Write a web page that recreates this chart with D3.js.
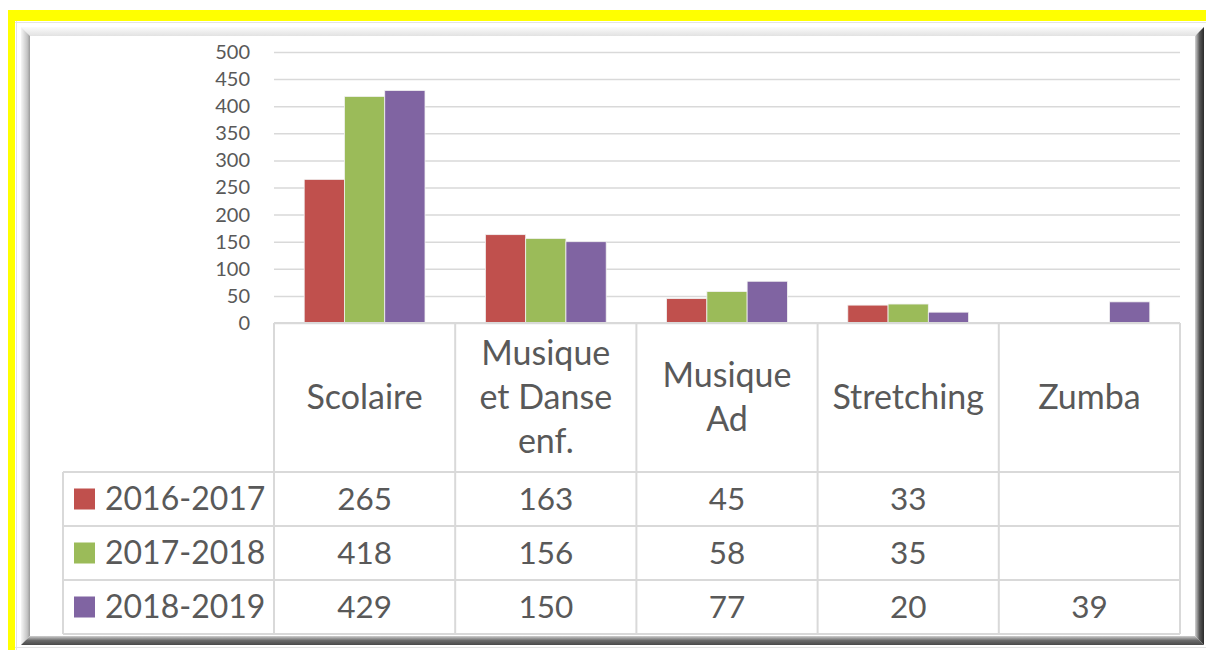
<!DOCTYPE html>
<html>
<head>
<meta charset="utf-8">
<script src="https://cdn.jsdelivr.net/npm/d3@7"></script>
<style>
body { margin: 0; background: #fff; }
svg { display: block; }
text { font-family: Lato, sans-serif; fill: #595959; }
</style>
</head>
<body>
<svg id="mySVG" width="1206" height="650"></svg>
<script>
// data
var categories = ["Scolaire", "Musique et Danse enf.", "Musique Ad", "Stretching", "Zumba"];
var seriesNames = ["2016-2017", "2017-2018", "2018-2019"];
var values1617 = [265, 163, 45, 33, null];
var values1718 = [418, 156, 58, 35, null];
var values1819 = [429, 150, 77, 20, 39];
var seriesColors = ["#C0504D", "#9BBB59", "#8064A2"];
var yTicks = [0, 50, 100, 150, 200, 250, 300, 350, 400, 450, 500];

var series = [values1617, values1718, values1819];

var plotLeft = 274, plotRight = 1180, plotTop = 52, plotBottom = 323;
var headBottom = 472, rowH = 54, legendLeft = 63;
var gridColor = "#D9D9D9";

var svg = d3.select('#mySVG');
var defs = svg.append('defs');

function grad(id, x1, y1, x2, y2, stops) {
	var g = defs.append('linearGradient').attr('id', id)
		.attr('x1', x1).attr('y1', y1).attr('x2', x2).attr('y2', y2);
	stops.forEach(function(s) {
		g.append('stop').attr('offset', s[0]).attr('stop-color', s[1]);
	});
}
grad('gLeft', 0, 0, 1, 0, [[0, "#f6f6f6"], [0.7, "#c4c4c4"], [1, "#9a9a9a"]]);
grad('gTop', 0, 0, 0, 1, [[0, "#fbfbfb"], [1, "#e2e2e2"]]);
grad('gRight', 0, 0, 1, 0, [[0, "#d4d4d4"], [0.5, "#5a5a5a"], [1, "#2a2a2a"]]);
grad('gBottom', 0, 0, 0, 1, [[0, "#cfcfcf"], [0.5, "#6a6a6a"], [1, "#4a4a4a"]]);

// yellow border
svg.append('rect').attr('x', 8).attr('y', 10).attr('width', 1198).attr('height', 11).attr('fill', '#FFFF00');
svg.append('rect').attr('x', 8).attr('y', 10).attr('width', 7).attr('height', 640).attr('fill', '#FFFF00');
svg.append('line').attr('x1', 15).attr('x2', 1206).attr('y1', 22.5).attr('y2', 22.5).attr('stroke', '#e4e4e4');
svg.append('line').attr('x1', 16.5).attr('x2', 16.5).attr('y1', 21).attr('y2', 650).attr('stroke', '#e4e4e4');
svg.append('line').attr('x1', 15).attr('x2', 1206).attr('y1', 647.5).attr('y2', 647.5).attr('stroke', '#e4e4e4');

// bevelled frame
var fx0 = 21, fy0 = 27, fx1 = 1204, fy1 = 645, b = 9;
var bevel = [
	{fill: 'url(#gTop)', pts: [[fx0, fy0], [fx1, fy0], [fx1 - b, fy0 + b], [fx0 + b, fy0 + b]]},
	{fill: 'url(#gLeft)', pts: [[fx0, fy0], [fx0 + b, fy0 + b], [fx0 + b, fy1 - b], [fx0, fy1]]},
	{fill: 'url(#gBottom)', pts: [[fx0, fy1], [fx0 + b, fy1 - b], [fx1 - b, fy1 - b], [fx1, fy1]]},
	{fill: 'url(#gRight)', pts: [[fx1, fy0], [fx1, fy1], [fx1 - b, fy1 - b], [fx1 - b, fy0 + b]]}
];
svg.selectAll('polygon.bevel')
	.data(bevel)
	.enter()
	.append('polygon')
	.attr('class', 'bevel')
	.attr('points', function(d) { return d.pts.join(' '); })
	.attr('fill', function(d) { return d.fill; });

// scales
var y = d3.scaleLinear().domain([0, 500]).range([plotBottom, plotTop]);
var x0 = d3.scaleBand().domain(categories).range([plotLeft, plotRight])
	.paddingInner(1 / 3).paddingOuter(1 / 6);
var x1 = d3.scaleBand().domain(seriesNames).range([0, x0.bandwidth()]).padding(0);
var step = x0.step();

// gridlines + y axis
var yAxis = d3.axisLeft(y).tickValues(yTicks).tickSize(-(plotRight - plotLeft)).tickPadding(24);
var gy = svg.append('g').attr('transform', 'translate(' + plotLeft + ',0)').call(yAxis);
gy.select('.domain').remove();
gy.selectAll('.tick line').attr('stroke', gridColor).attr('stroke-width', 1.5);
gy.selectAll('.tick text').style('font-size', '20px').style('font-family', 'Lato, sans-serif').attr('fill', '#595959');

// bars
var barData = [];
series.forEach(function(vals, s) {
	vals.forEach(function(v, c) {
		if (v != null) barData.push({cat: categories[c], name: seriesNames[s], value: v, color: seriesColors[s]});
	});
});
svg.append('g').selectAll('rect')
	.data(barData)
	.enter()
	.append('rect')
	.attr('x', function(d) { return x0(d.cat) + x1(d.name); })
	.attr('y', function(d) { return y(d.value); })
	.attr('width', x1.bandwidth())
	.attr('height', function(d) { return plotBottom - y(d.value); })
	.attr('fill', function(d) { return d.color; })
	.attr('stroke', '#f2f2f2')
	.attr('stroke-width', 0.8);

// data table
var tbl = svg.append('g');
var rowTops = seriesNames.map(function(n, i) { return headBottom + i * rowH; });
var tableBottom = headBottom + seriesNames.length * rowH;

// horizontal lines
tbl.append('line').attr('x1', plotLeft).attr('x2', plotRight).attr('y1', plotBottom).attr('y2', plotBottom)
	.attr('stroke', gridColor).attr('stroke-width', 2);
tbl.selectAll('line.h')
	.data(rowTops.concat([tableBottom]))
	.enter()
	.append('line')
	.attr('class', 'h')
	.attr('x1', legendLeft).attr('x2', plotRight)
	.attr('y1', function(d) { return d; }).attr('y2', function(d) { return d; })
	.attr('stroke', gridColor).attr('stroke-width', 2);
// vertical lines
var vx = categories.map(function(c) { return plotLeft + categories.indexOf(c) * step; }).concat([plotRight]);
tbl.selectAll('line.v')
	.data(vx)
	.enter()
	.append('line')
	.attr('class', 'v')
	.attr('x1', function(d) { return d; }).attr('x2', function(d) { return d; })
	.attr('y1', plotBottom).attr('y2', tableBottom)
	.attr('stroke', gridColor).attr('stroke-width', 2);
tbl.append('line').attr('x1', legendLeft).attr('x2', legendLeft).attr('y1', headBottom).attr('y2', tableBottom)
	.attr('stroke', gridColor).attr('stroke-width', 2);

// category headers, wrapped
var lineH = 44, wrapW = 152;
var headMid = (plotBottom + headBottom) / 2;
categories.forEach(function(c, i) {
	var cx = plotLeft + i * step + step / 2;
	var t = tbl.append('text').attr('text-anchor', 'middle').style('font-size', '34px');
	var words = c.split(' '), lines = [], cur = '';
	words.forEach(function(w) {
		var test = cur ? cur + ' ' + w : w;
		t.text(test);
		if (cur && t.node().getComputedTextLength() > wrapW) { lines.push(cur); cur = w; }
		else cur = test;
	});
	lines.push(cur);
	t.text(null);
	lines.forEach(function(l, k) {
		t.append('tspan').attr('x', cx)
			.attr('y', headMid + (k - (lines.length - 1) / 2) * lineH)
			.attr('dy', '0.35em')
			.text(l);
	});
});

// rows: legend key + values
seriesNames.forEach(function(n, s) {
	var mid = rowTops[s] + rowH / 2;
	tbl.append('rect').attr('x', 74).attr('y', mid - 10.5).attr('width', 21).attr('height', 21).attr('fill', seriesColors[s]);
	tbl.append('text').attr('x', 105).attr('y', mid).attr('dy', '0.35em').style('font-size', '32px').text(n);
	tbl.selectAll(null)
		.data(series[s])
		.enter()
		.append('text')
		.attr('x', function(d, c) { return plotLeft + c * step + step / 2; })
		.attr('y', mid)
		.attr('dy', '0.35em')
		.attr('text-anchor', 'middle')
		.style('font-size', '31.5px')
		.text(function(d) { return d == null ? '' : d; });
});
</script>
</body>
</html>
